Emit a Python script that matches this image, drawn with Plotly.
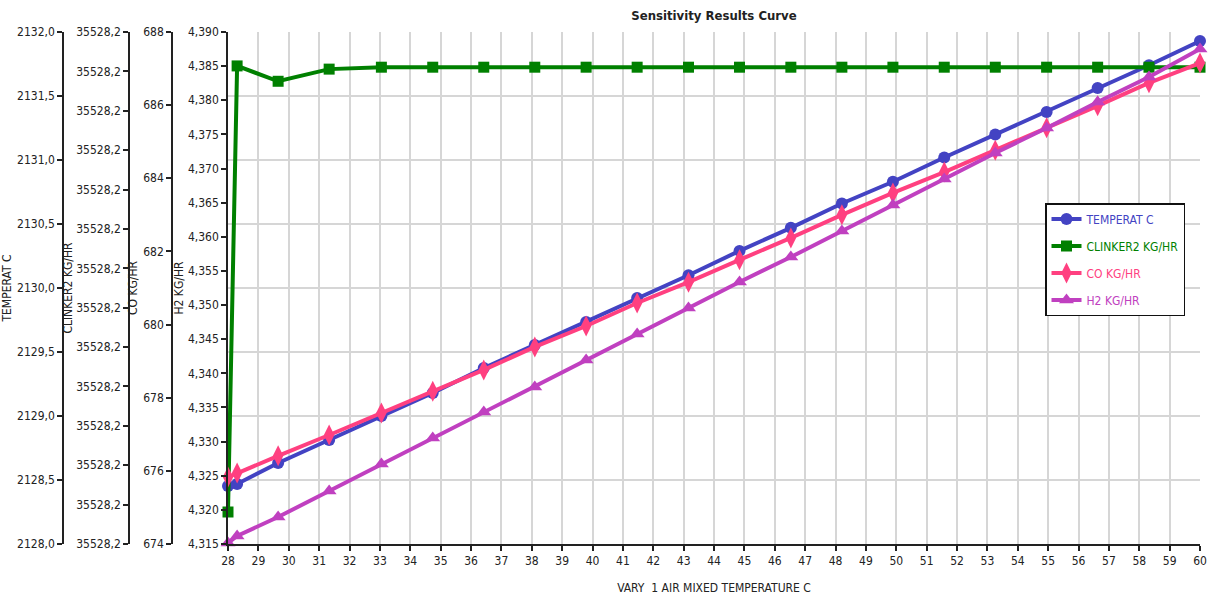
import plotly.graph_objects as go

# Sensitivity case values (varied air mixed temperature, C)
air_temp = [28.0, 28.3, 29.65, 31.33, 33.05, 34.74, 36.42, 38.1, 39.79, 41.47,
            43.16, 44.84, 46.53, 48.21, 49.89, 51.58, 53.26, 54.95, 56.63, 58.32, 60.0]

temperat_c = [2128.453, 2128.469, 2128.633, 2128.812, 2129.0, 2129.18, 2129.375,
              2129.555, 2129.734, 2129.922, 2130.10, 2130.29, 2130.47, 2130.66,
              2130.83, 2131.02, 2131.20, 2131.375, 2131.5625, 2131.74, 2131.93]

clinker2_kg_hr = [35528.165, 35528.2347, 35528.2323, 35528.2342, 35528.2345, 35528.2345,
                  35528.2345, 35528.2345, 35528.2345, 35528.2345, 35528.2345, 35528.2345,
                  35528.2345, 35528.2345, 35528.2345, 35528.2345, 35528.2345, 35528.2345,
                  35528.2345, 35528.2345, 35528.2345]

co_kg_hr = [675.83, 675.94, 676.41, 676.98, 677.58, 678.18, 678.76, 679.39, 679.96,
            680.59, 681.16, 681.77, 682.37, 683.00, 683.60, 684.17, 684.77, 685.38,
            685.98, 686.61, 687.15]

h2_kg_hr = [4.31515, 4.31617, 4.31896, 4.32276, 4.32672, 4.33053, 4.33434, 4.33800,
            4.34195, 4.34576, 4.34957, 4.35338, 4.35704, 4.36085, 4.36466, 4.36847,
            4.37228, 4.37594, 4.37975, 4.38341, 4.38751]

x_ticks = list(range(28, 61))
clinker_tick_vals = [35528.16 + k * 0.08 / 13 for k in range(14)]
clinker_tick_text = ["35528,2"] * 14

FONT = "Liberation Sans Narrow, DejaVu Sans Condensed, Arial Narrow, sans-serif"
BLUE, GREEN, PINK, PURPLE = "#4343c3", "#008000", "#ff4080", "#c040c0"

W, H = 1211, 598
L, R, T, B = 0, 11, 32, 54
PW = W - L - R


def px(x):
    return x / PW


def series(name, color, y, axis, symbol, size):
    return go.Scatter(
        x=air_temp, y=y, yaxis=axis, mode="lines+markers",
        name=f"<span style='color:{color}'>{name}</span>",
        legendgroup=name,
        line=dict(color=color, width=4),
        marker=dict(color=color, symbol=symbol, size=size),
        cliponaxis=False,
    )


fig = go.Figure()
fig.add_trace(series("TEMPERAT C", BLUE, temperat_c, "y", "circle", 12))
fig.add_trace(series("CLINKER2 KG/HR", GREEN, clinker2_kg_hr, "y2", "square", 11))
fig.add_trace(series("CO KG/HR", PINK, co_kg_hr, "y3", "diamond-tall", 15))
fig.add_trace(series("H2 KG/HR", PURPLE, h2_kg_hr, "y4", "triangle-up", 13))

tick_font = dict(family=FONT, size=12, color="#222")
title_font = dict(family=FONT, size=12, color="#222")
common_y = dict(showline=True, linecolor="#222", linewidth=1.5, ticks="outside",
                ticklen=5, tickcolor="#222", tickwidth=1.5, tickfont=tick_font,
                zeroline=False, side="left", automargin=False)

fig.update_layout(
    width=W, height=H,
    margin=dict(l=L, r=R, t=T, b=B, autoexpand=False),
    paper_bgcolor="white", plot_bgcolor="white",
    separators=", ",
    font=dict(family=FONT, size=12),
    title=dict(text="<b>Sensitivity Results Curve</b>", x=px(714), xref="paper",
               xanchor="center", y=1 - 15 / H, yanchor="middle",
               font=dict(family=FONT, size=13, color="#222")),
    xaxis=dict(domain=[px(228), 1.0], range=[28, 60], tickvals=x_ticks,
               showgrid=True, gridcolor="#d6d6d6", gridwidth=2,
               showline=True, linecolor="#222", linewidth=1.5,
               ticks="outside", ticklen=5, tickcolor="#222", tickwidth=1.5,
               tickfont=tick_font, zeroline=False, automargin=False,
               title=dict(text="VARY\u00a0\u00a01 AIR MIXED TEMPERATURE C",
                          font=title_font, standoff=16)),
    yaxis=dict(common_y, anchor="free", position=px(63), range=[2128, 2132],
               dtick=0.5, tickformat=".1f", showgrid=True, gridcolor="#d6d6d6",
               gridwidth=2, title=dict(text="TEMPERAT C", font=title_font, standoff=4)),
    yaxis2=dict(common_y, anchor="free", position=px(129), overlaying="y",
                range=[35528.16, 35528.24], tickvals=clinker_tick_vals,
                ticktext=clinker_tick_text, showgrid=False,
                title=dict(text="CLINKER2 KG/HR", font=title_font, standoff=0)),
    yaxis3=dict(common_y, anchor="free", position=px(172), overlaying="y",
                range=[674, 688], dtick=2, tickformat="d", showgrid=False,
                title=dict(text="CO KG/HR", font=title_font, standoff=2)),
    yaxis4=dict(common_y, anchor="x", overlaying="y", range=[4.315, 4.390],
                dtick=0.005, tickformat=".3f", showgrid=False,
                title=dict(text="H2 KG/HR", font=title_font, standoff=2)),
    legend=dict(x=px(1185), y=(H - B - 203) / (H - T - B), xanchor="right",
                yanchor="top", bgcolor="white", bordercolor="#111", borderwidth=1.5,
                font=dict(family=FONT, size=12), tracegroupgap=8,
                itemwidth=30),
    showlegend=True,
)

fig.write_html("out.html")
